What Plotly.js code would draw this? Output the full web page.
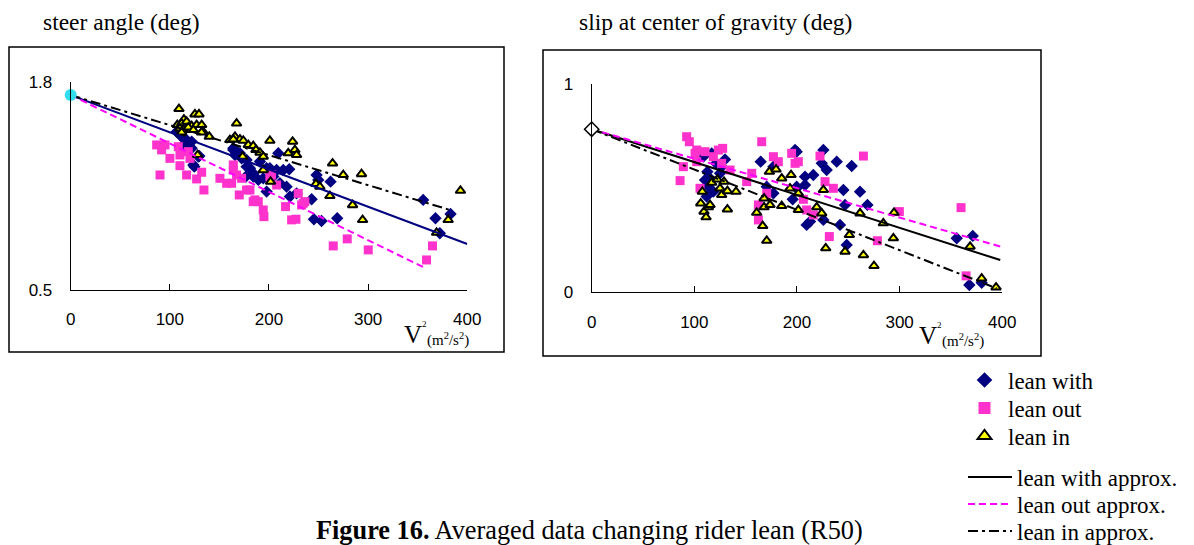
<!DOCTYPE html>
<html>
<head>
<meta charset="utf-8">
<script src="https://cdn.plot.ly/plotly-3.0.1.min.js"></script>
<style>html,body{margin:0;padding:0;background:#fff}#chart{width:1194px;height:545px}</style>
</head>
<body>
<div id="chart"></div>
<script>
// ---------- data: steer angle (left) ----------
const L_with_x = [106.9,110.2,111.9,116.9,122.0,115.3,129.7,124.7,164.0,169.0,165.7,172.4,177.4,184.1,190.9,197.6,200.9,207.7,209.4,220.4,206.0,214.4,211.0,217.7,221.1,227.8,197.6,184.1,189.2,194.2,204.3,248.0,249.7,262.1,243.0,245.3,253.0,268.8,355.5,367.9,383.1,372.3,176.7,123.7,128.7,117.0,122.0,113.0,164.0,170.7,177.4,184.1,180.8];
const L_with_y = [1.491,1.470,1.460,1.439,1.429,1.418,1.339,1.272,1.377,1.356,1.345,1.324,1.272,1.231,1.304,1.262,1.262,1.251,1.356,1.256,1.241,1.251,1.168,1.147,1.085,1.105,1.116,1.210,1.189,1.199,1.210,1.220,1.189,1.178,1.068,0.943,0.932,0.949,1.064,0.949,0.976,0.855,1.210,1.283,1.335,1.430,1.387,1.400,1.387,1.356,1.314,1.220,1.262];

const L_out_x = [86.7,95.1,91.7,100.1,108.5,110.2,118.6,120.3,90.1,110.2,116.9,127.0,132.1,134.4,150.5,157.3,162.3,164.0,167.3,172.4,170.0,177.4,184.1,189.2,194.2,194.9,200.9,207.7,216.7,222.8,227.2,229.5,232.9,236.2,264.8,278.9,300.1,358.9,364.9,164.0,202.6,234.5,185.8,180.8];
const L_out_y = [1.408,1.408,1.377,1.324,1.397,1.345,1.366,1.324,1.220,1.278,1.220,1.195,1.237,1.126,1.199,1.168,1.168,1.283,1.220,1.199,1.095,1.126,1.053,1.053,1.001,0.959,1.210,1.157,1.022,0.939,0.943,1.105,1.032,1.053,0.776,0.820,0.751,0.688,0.776,1.251,1.220,1.043,1.064,1.126];

const L_in_x = [109.2,114.2,125.3,129.4,107.5,111.9,116.9,122.0,127.0,132.1,110.2,113.6,118.6,123.7,133.1,110.9,139.8,128.0,167.3,160.6,165.7,170.7,174.1,179.1,184.1,186.8,190.9,194.2,173.4,200.9,223.8,219.4,226.1,227.8,194.2,201.6,264.1,274.9,293.3,247.3,251.3,261.4,284.3,294.4,393.1,380.7,369.0,164.0,111.9,132.0];
const L_in_y = [1.633,1.568,1.600,1.600,1.533,1.543,1.554,1.527,1.533,1.533,1.512,1.502,1.518,1.502,1.495,1.481,1.460,1.345,1.543,1.439,1.460,1.443,1.435,1.408,1.402,1.377,1.360,1.335,1.335,1.435,1.429,1.356,1.377,1.345,1.251,1.178,1.293,1.220,1.226,1.164,1.147,1.089,1.032,0.939,1.122,0.939,0.859,1.443,1.487,1.487];

const L_start_x = [0];
const L_start_y = [1.72];
const L_with_fit_x = [0, 400];
const L_with_fit_y = [1.72, 0.788];
const L_out_fit_x = [0, 358];
const L_out_fit_y = [1.72, 0.636];
const L_in_fit_x = [0, 383];
const L_in_fit_y = [1.72, 1.0];

// ---------- data: slip at center of gravity (right) ----------
const R_with_x = [116.9,108.8,129.9,121.1,126.6,112.7,115.3,110.4,125.0,113.7,118.5,112.0,164.6,177.0,198.1,199.7,225.7,224.1,228.9,238.7,253.3,207.8,215.9,207.8,199.7,245.2,261.4,268.6,246.8,241.9,209.4,212.7,225.7,248.4,199.7,195.8,170.5,177.0,355.6,371.2,367.9,379.9];
const R_with_y = [0.668,0.652,0.639,0.620,0.604,0.580,0.548,0.540,0.572,0.508,0.484,0.460,0.628,0.604,0.684,0.676,0.684,0.620,0.588,0.628,0.607,0.556,0.564,0.516,0.500,0.492,0.484,0.420,0.420,0.324,0.324,0.340,0.348,0.228,0.508,0.447,0.508,0.476,0.260,0.271,0.035,0.046];

const R_out_x = [92.5,95.1,102.3,110.4,100.7,123.4,127.6,118.5,126.6,102.3,89.3,86.1,105.5,134.8,151.0,155.9,165.6,177.0,181.8,194.8,198.1,201.3,162.4,162.4,170.5,206.2,209.4,222.4,227.3,235.4,231.5,264.7,278.3,299.7,359.8,364.7,215.9];
const R_out_y = [0.748,0.724,0.684,0.676,0.668,0.684,0.692,0.652,0.620,0.628,0.604,0.537,0.500,0.588,0.532,0.572,0.724,0.652,0.628,0.668,0.620,0.628,0.420,0.348,0.476,0.447,0.396,0.655,0.532,0.500,0.268,0.655,0.248,0.388,0.407,0.079,0.372];

const R_in_x = [107.8,106.2,109.4,111.4,113.7,116.9,122.4,128.9,125.0,126.6,132.2,140.6,132.2,167.9,166.6,170.5,160.7,167.9,173.7,185.1,173.1,179.6,185.1,194.2,193.2,201.3,201.3,219.2,224.1,225.7,228.0,246.8,251.0,261.4,264.7,275.0,284.1,293.9,294.5,368.6,379.9,393.9,115.3];
const R_in_y = [0.484,0.428,0.388,0.361,0.409,0.527,0.543,0.532,0.500,0.468,0.487,0.484,0.399,0.452,0.319,0.248,0.383,0.409,0.420,0.415,0.580,0.591,0.548,0.564,0.500,0.396,0.476,0.409,0.380,0.492,0.212,0.196,0.276,0.380,0.179,0.127,0.332,0.260,0.383,0.220,0.067,0.024,0.420];

const R_start_x = [0];
const R_start_y = [0.784];
const R_with_fit_x = [0, 398];
const R_with_fit_y = [0.784, 0.155];
const R_out_fit_x = [0, 401];
const R_out_fit_y = [0.784, 0.216];
const R_in_fit_x = [0, 394.5];
const R_in_fit_y = [0.784, 0.019];

// ---------- labels ----------
const leftTitle = 'steer angle (deg)';
const rightTitle = 'slip at center of gravity (deg)';
const seriesNames = ['lean with', 'lean out', 'lean in'];
const fitNames = ['lean with approx.', 'lean out approx.', 'lean in approx.'];
const xTicks = [0, 100, 200, 300, 400];
const leftYTicks = [0.5, 1.8];
const rightYTicks = [0, 1];
const caption = '<b>Figure 16.</b> Averaged data changing rider lean (R50)';

// ---------- styles ----------
const NAVY = '#000080', PINK = '#FF33CC', YEL = '#FFFF00';
const diamond = {symbol: 'diamond', size: 9.5, color: NAVY, line: {width: 0}};
const square = {symbol: 'square', size: 9, color: PINK, line: {width: 0}};
const tri = {symbol: 'triangle-up', size: 8.5, color: YEL, line: {width: 2, color: '#000'}};

function pts(x, y, xa, ya, name, marker, leg) {
  return {type: 'scatter', mode: 'markers', x: x, y: y, xaxis: xa, yaxis: ya, name: name,
          marker: marker, cliponaxis: false, showlegend: !!leg, legend: leg || 'legend', hoverinfo: 'skip'};
}
function fit(x, y, xa, ya, name, line, leg) {
  return {type: 'scatter', mode: 'lines', x: x, y: y, xaxis: xa, yaxis: ya, name: name,
          line: line, cliponaxis: false, showlegend: !!leg, legend: leg || 'legend', hoverinfo: 'skip'};
}

const DASH = '7px,4px', DASHDOT = '10px,4px,3px,4px';
const traces = [
  // left
  pts(L_with_x, L_with_y, 'x', 'y', seriesNames[0], diamond),
  pts(L_out_x, L_out_y, 'x', 'y', seriesNames[1], square),
  pts(L_in_x, L_in_y, 'x', 'y', seriesNames[2], tri),
  fit(L_with_fit_x, L_with_fit_y, 'x', 'y', fitNames[0], {color: NAVY, width: 2}),
  fit(L_out_fit_x, L_out_fit_y, 'x', 'y', fitNames[1], {color: '#FF00FF', width: 2, dash: DASH}),
  fit(L_in_fit_x, L_in_fit_y, 'x', 'y', fitNames[2], {color: '#000', width: 2, dash: DASHDOT}),
  pts(L_start_x, L_start_y, 'x', 'y', 'start', {symbol: 'circle', size: 12, color: '#33DDEE', line: {width: 0}}),
  // right
  pts(R_with_x, R_with_y, 'x2', 'y2', seriesNames[0], diamond, 'legend'),
  pts(R_out_x, R_out_y, 'x2', 'y2', seriesNames[1], square, 'legend2'),
  pts(R_in_x, R_in_y, 'x2', 'y2', seriesNames[2], tri, 'legend3'),
  fit(R_with_fit_x, R_with_fit_y, 'x2', 'y2', fitNames[0], {color: '#000', width: 2}, 'legend4'),
  fit(R_out_fit_x, R_out_fit_y, 'x2', 'y2', fitNames[1], {color: '#FF00FF', width: 2, dash: DASH}, 'legend5'),
  fit(R_in_fit_x, R_in_fit_y, 'x2', 'y2', fitNames[2], {color: '#000', width: 2, dash: DASHDOT}, 'legend6'),
  pts(R_start_x, R_start_y, 'x2', 'y2', 'start', {symbol: 'diamond', size: 11, color: '#fff', line: {width: 1.5, color: '#000'}})
];

const tickFont = {family: 'Liberation Sans, Arial, sans-serif', size: 17, color: '#000'};
function xax(domain, anchor) {
  return {domain: domain, anchor: anchor, range: [0, 400], tickvals: xTicks, ticktext: xTicks.map(String),
          showline: true, linecolor: '#000', linewidth: 1, ticks: 'inside', ticklen: 6, tickcolor: '#000',
          showgrid: false, zeroline: false, tickfont: tickFont, ticklabelstandoff: 14, fixedrange: true};
}
function yax(domain, anchor, range, tv) {
  return {domain: domain, anchor: anchor, range: range, tickvals: tv, ticktext: tv.map(String),
          showline: true, linecolor: '#000', linewidth: 1, ticks: 'inside', ticklen: 6, tickcolor: '#000',
          showgrid: false, zeroline: false, tickfont: tickFont, ticklabelstandoff: 14, fixedrange: true};
}

const W = 1194, H = 545;
const px = v => v / W, py = v => 1 - v / H;
const serif = 'Liberation Serif, Times New Roman, serif';
const legFont = {family: serif, size: 23, color: '#000'};
function leg(xp, yp, extra) {
  return Object.assign({x: px(xp), y: py(yp), xanchor: 'left', yanchor: 'middle', bgcolor: 'rgba(0,0,0,0)',
          borderwidth: 0, font: legFont, itemclick: false, itemdoubleclick: false}, extra || {});
}

const layout = {
  width: W, height: H, margin: {l: 0, r: 0, t: 0, b: 0, autoexpand: false},
  paper_bgcolor: '#fff', plot_bgcolor: 'rgba(0,0,0,0)',
  xaxis: xax([0.05921, 0.39137], 'y'),
  yaxis: yax([0.46789, 0.84899], 'x', [0.5, 1.8], leftYTicks),
  xaxis2: xax([0.49556, 0.83945], 'y2'),
  yaxis2: yax([0.46367, 0.84532], 'x2', [0, 1], rightYTicks),
  legend:  leg(961, 380, {itemsizing: 'constant', itemwidth: 37}),
  legend2: leg(961, 408, {itemsizing: 'constant', itemwidth: 37}),
  legend3: leg(961, 436, {itemsizing: 'constant', itemwidth: 37}),
  legend4: leg(963, 477, {itemwidth: 44}),
  legend5: leg(963, 504, {itemwidth: 44}),
  legend6: leg(963, 531, {itemwidth: 44}),
  shapes: [
    {type: 'rect', xref: 'paper', yref: 'paper', x0: px(9), x1: px(504), y0: py(352), y1: py(47), line: {color: '#000', width: 1.5}},
    {type: 'rect', xref: 'paper', yref: 'paper', x0: px(543), x1: px(1041), y0: py(356), y1: py(50), line: {color: '#000', width: 1.5}}
  ],
  annotations: [
    {text: leftTitle, xref: 'paper', yref: 'paper', x: px(41), y: py(22), xanchor: 'left', yanchor: 'middle', showarrow: false, font: {family: serif, size: 23.5, color: '#000'}},
    {text: rightTitle, xref: 'paper', yref: 'paper', x: px(577), y: py(22), xanchor: 'left', yanchor: 'middle', showarrow: false, font: {family: serif, size: 23.5, color: '#000'}},
    {text: 'V', xref: 'paper', yref: 'paper', x: px(402), y: py(334), xanchor: 'left', yanchor: 'middle', showarrow: false, font: {family: serif, size: 25, color: '#000'}},
    {text: '2', xref: 'paper', yref: 'paper', x: px(420), y: py(324), xanchor: 'left', yanchor: 'middle', showarrow: false, font: {family: serif, size: 9, color: '#000'}},
    {text: '(m<sup>2</sup>/s<sup>2</sup>)', xref: 'paper', yref: 'paper', x: px(425), y: py(339), xanchor: 'left', yanchor: 'middle', showarrow: false, font: {family: serif, size: 15, color: '#000'}},
    {text: 'V', xref: 'paper', yref: 'paper', x: px(917), y: py(335), xanchor: 'left', yanchor: 'middle', showarrow: false, font: {family: serif, size: 25, color: '#000'}},
    {text: '2', xref: 'paper', yref: 'paper', x: px(935), y: py(325), xanchor: 'left', yanchor: 'middle', showarrow: false, font: {family: serif, size: 9, color: '#000'}},
    {text: '(m<sup>2</sup>/s<sup>2</sup>)', xref: 'paper', yref: 'paper', x: px(940), y: py(340), xanchor: 'left', yanchor: 'middle', showarrow: false, font: {family: serif, size: 15, color: '#000'}},
    {text: caption, xref: 'paper', yref: 'paper', x: px(589), y: py(530), xanchor: 'center', yanchor: 'middle', showarrow: false, font: {family: serif, size: 26.3, color: '#000'}}
  ]
};

Plotly.newPlot('chart', traces, layout, {displayModeBar: false, staticPlot: true});
</script>
</body>
</html>
